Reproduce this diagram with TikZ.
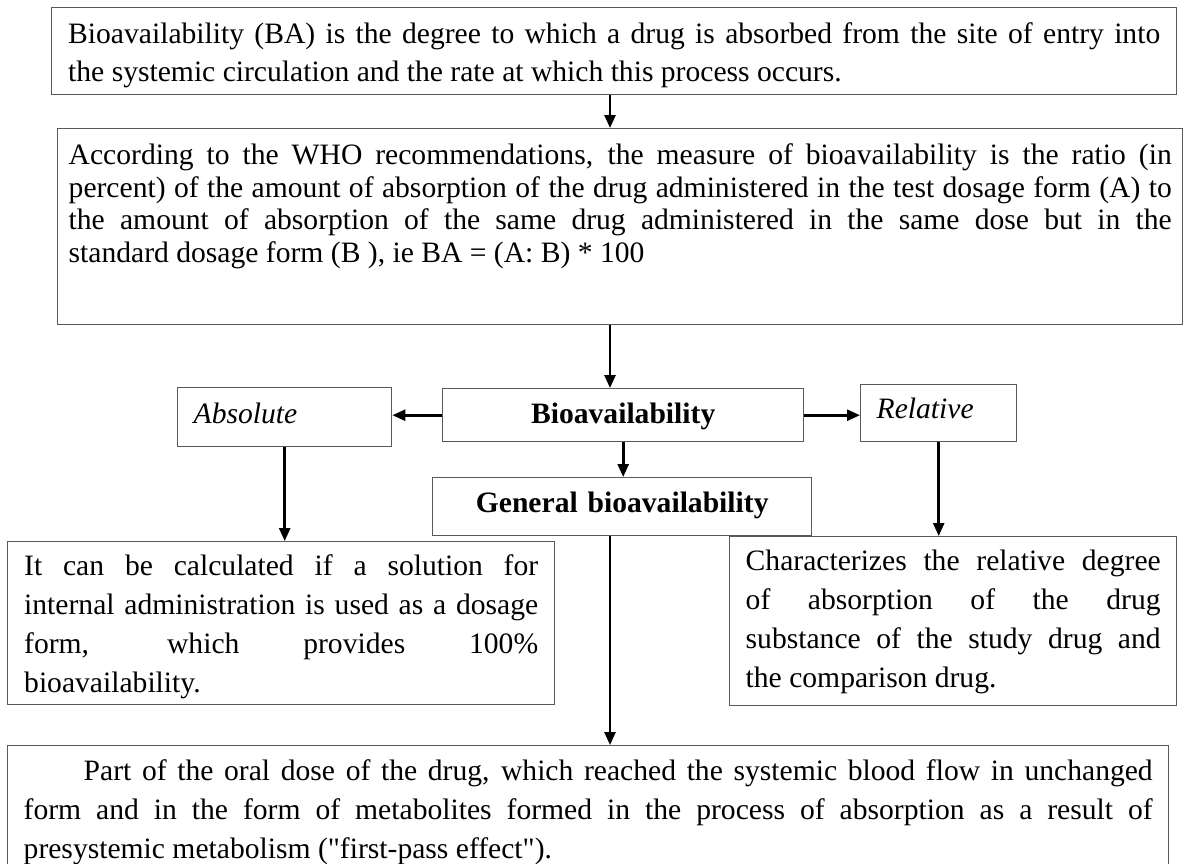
\documentclass[tikz,border=0pt]{standalone}
\usepackage{fontspec}
\setmainfont{Liberation Serif}
\newfontfamily\plainq{Liberation Serif}
\usetikzlibrary{arrows.meta,positioning}
\newcommand{\txtsize}[1]{\fontsize{14.8pt}{#1}\selectfont}
\newcommand{\sq}{{\plainq"}}
\tolerance=10000
\hbadness=10000

\begin{document}
\begin{tikzpicture}[x=0.5pt,y=-0.5pt,
    box/.style={draw=black!65,line width=0.7pt,anchor=north west,inner xsep=8pt,inner ysep=2pt,align=justify},
    tag/.style={draw=black!65,line width=0.7pt,anchor=north west,inner ysep=0pt},
    arr/.style={-{Triangle[length=6.5pt,width=5.5pt]},line width=1.3pt}]
    \useasboundingbox (0,0) rectangle (1183,863);
    \coordinate (spine) at (610,0);
    % definition and WHO measure
    \node[box,text width=546pt,inner xsep=8.25pt,text height=16pt,text depth=23.5pt,font=\txtsize{19pt}] at (51,7) (def) {Bioavailability (BA) is the degree to which a drug is absorbed from the site of entry into\linebreak the systemic circulation and the rate at which this process occurs.};
    \node[box,text width=551.5pt,inner xsep=5.5pt,text height=16pt,text depth=78pt,font=\txtsize{16.25pt}] at (57,128) (who) {According to the WHO recommendations, the measure of bioavailability is the ratio (in\linebreak percent) of the amount of absorption of the drug administered in the test dosage form (A) to\linebreak the amount of absorption of the same drug administered in the same dose but in the\linebreak standard dosage form (B ), ie BA = (A: B) * 100};
    % kinds of bioavailability
    \node[tag,text width=180.5pt,inner xsep=0pt,align=center,text height=17.5pt,text depth=9pt,font=\txtsize{19pt}\bfseries] at (442,388) (bio) {Bioavailability};
    \node[tag,text width=91pt,inner xsep=8pt,align=left,text height=18pt,text depth=11.5pt,font=\txtsize{19pt}\itshape] at (177,387) (abs) {Absolute};
    \node[tag,text width=62pt,inner xsep=8pt,align=left,text height=17pt,text depth=11.5pt,font=\txtsize{19pt}\itshape] at (860,384) (rel) {Relative};
    \node[tag,text width=189.5pt,inner xsep=0pt,align=center,text height=17.5pt,text depth=11.5pt,font=\txtsize{19pt}\bfseries] at (432,477) (gen) {General bioavailability};
    % explanations
    \node[box,text width=257pt,inner xsep=8.25pt,text height=15pt,text depth=62.5pt,font=\txtsize{19.5pt}] at (7,541) (calc) {It can be calculated if a solution for\linebreak internal administration is used as a dosage\linebreak form, which provides 100\%\linebreak bioavailability.};
    \node[box,text width=207.5pt,text height=15pt,text depth=65.5pt,font=\txtsize{19.5pt}] at (729,536) (comp) {Characterizes the relative degree\linebreak of absorption of the drug\linebreak substance of the study drug and\linebreak the comparison drug.};
    \node[box,text width=564.5pt,text height=15.5pt,text depth=48pt,font=\txtsize{19.5pt}] at (7,745) (oral) {\hspace*{30pt}Part of the oral dose of the drug, which reached the systemic blood flow in unchanged\linebreak form and in the form of metabolites formed in the process of absorption as a result of\linebreak presystemic metabolism (\sq first-pass effect\sq).};
    % arrows
    \draw[arr] (def.south -| spine) -- (who.north -| spine);
    \draw[arr] (who.south -| spine) -- (bio.north -| spine);
    \draw[arr] (bio.west) -- (bio.west -| abs.east);
    \draw[arr] (bio.east) -- (bio.east -| rel.west);
    \draw[arr] (bio.south) -- (bio.south |- gen.north);
    \draw[arr] (abs.south) -- (abs.south |- calc.north);
    \draw[arr] (rel.south) -- (rel.south |- comp.north);
    \draw[arr] (gen.south -| spine) -- (oral.north -| spine);
\end{tikzpicture}
\end{document}
